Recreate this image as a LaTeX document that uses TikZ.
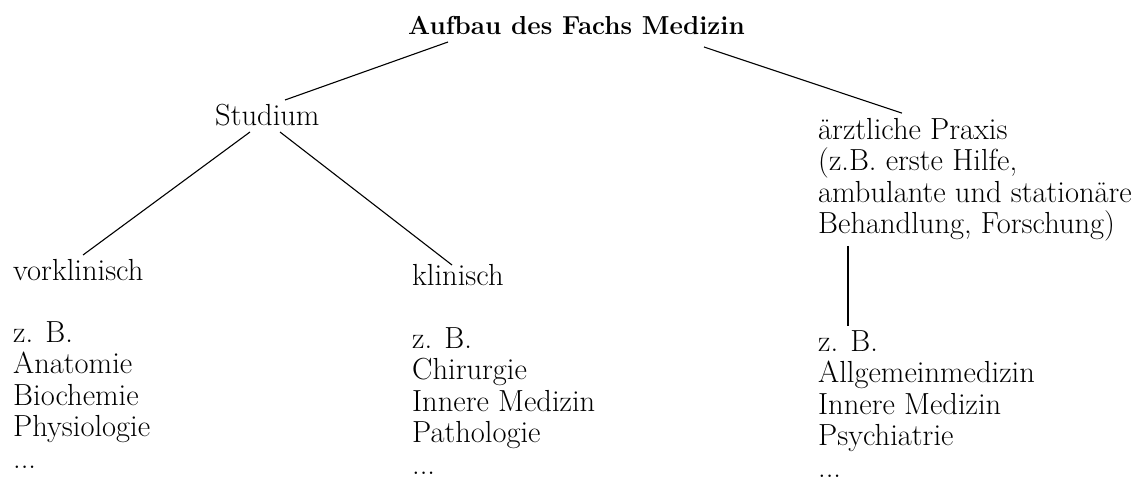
\documentclass[tikz,border=0pt]{standalone}
\begin{document}
\begin{tikzpicture}[x=1pt,y=-1pt,
    txt/.style={inner sep=0pt, anchor=base west, align=left, font=\fontsize{30.5}{31.5}\selectfont},
    ast/.style={line width=1.1pt}]
    \useasboundingbox (0,0) rectangle (1141,481);
    \node[txt, font=\fontsize{26}{30}\selectfont\bfseries] (titel) at (408,35) {Aufbau des Fachs Medizin};
    \node[txt] (studium) at (215,126) {Studium};
    % base = Grundlinie der letzten Zeile
    \node[txt] (praxis) at (818,234) {ärztliche Praxis\\(z.B. erste Hilfe,\\ambulante und stationäre\\Behandlung, Forschung)};
    \node[txt] (vorkl) at (13,280) {vorklinisch};
    \node[txt] (klin) at (412,285) {klinisch};
    \node[txt] (vorkl-bsp) at (13,468) {z. B.\\Anatomie\\Biochemie\\Physiologie\\...};
    \node[txt] (klin-bsp) at (412,474) {z. B.\\Chirurgie\\Innere Medizin\\Pathologie\\...};
    \node[txt] (praxis-bsp) at (818,477) {z. B.\\Allgemeinmedizin\\Innere Medizin\\Psychiatrie\\...};
    % Aeste
    \draw[ast] ([shift={(40,7)}]titel.base west) -- ([shift={(70,-26)}]studium.base west);
    \draw[ast] ([shift={(-41,12)}]titel.base east) -- ([shift={(84,-5)}]praxis.north west);
    \draw[ast] ([shift={(35,6)}]studium.base west) -- ([shift={(70,-25)}]vorkl.base west);
    \draw[ast] ([shift={(65,6)}]studium.base west) -- ([shift={(40,-20)}]klin.base west);
    \draw[ast] ([shift={(30,4)}]praxis.south west) -- ([shift={(30,-4)}]praxis-bsp.north west);
\end{tikzpicture}
\end{document}
